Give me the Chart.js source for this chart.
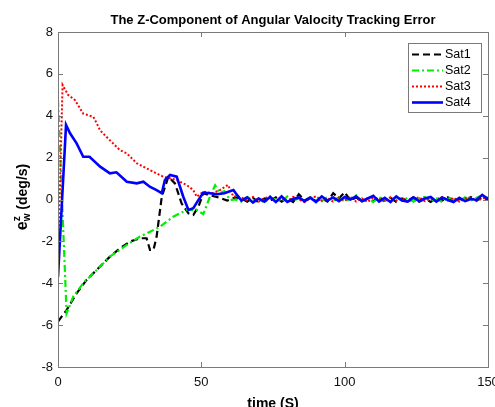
<!DOCTYPE html>
<html><head><meta charset="utf-8">
<script src="https://cdn.jsdelivr.net/npm/chart.js@4/dist/chart.umd.min.js"></script>
<style>html,body{margin:0;padding:0;background:#fff;}#wrap{position:relative;width:495px;height:407px;overflow:hidden}</style>
</head><body><div id="wrap"><canvas id="c" width="495" height="407"></canvas></div>
<script>
const chartTitle = "The Z-Component of Angular Valocity Tracking Error";
const xLabel = "time (S)";
const seriesNames = ["Sat1", "Sat2", "Sat3", "Sat4"];
const xTickValues = [0, 50, 100, 150];
const yTickValues = [-8, -6, -4, -2, 0, 2, 4, 6, 8];

// transient part of each series (time in s, error in deg/s)
const sat1T = [0, 3, 6.5, 10, 14.7, 18.1, 21.6, 25.1, 28.6, 30.9, 32.1, 33.3, 34.4, 36.2, 38.5, 40.8, 43.1, 45.5, 47.2, 49, 50.7, 53, 56, 59];
const sat1V = [-5.83, -5.28, -4.48, -3.84, -3.2, -2.73, -2.33, -2.01, -1.85, -1.85, -2.41, -2.41, -1.77, 0.13, 1.09, 0.77, -0.18, -0.66, -0.74, -0.34, 0.3, 0.2, 0.1, -0.05];
const sat2T = [0, 3, 5.3, 8.8, 13.5, 18.1, 24, 28.6, 32.1, 35.6, 40.2, 44.9, 48.4, 50.7, 53, 54.8, 56.5, 58, 60];
const sat2V = [4.75, -5.43, -4.64, -4.0, -3.37, -2.73, -2.17, -1.77, -1.54, -1.3, -0.82, -0.5, -0.5, -0.7, 0.13, 0.68, 0.3, 0.4, -0.02];
const sat3T = [0, 1.6, 3.5, 5.9, 8.8, 12.3, 13.5, 14.7, 18, 21.6, 24, 27.5, 32, 36.7, 41.4, 44.9, 47.2, 48.4, 50.7, 54, 56.5, 59.3, 61.2];
const sat3V = [-3.0, 5.47, 5.0, 4.75, 4.1, 3.95, 3.64, 3.3, 2.84, 2.36, 2.2, 1.73, 1.41, 1.09, 0.93, 0.69, 0.45, 0.13, 0.37, 0.3, 0.45, 0.7, 0.13];
const sat4T = [0, 2.8, 4.2, 6.5, 8.8, 11, 14.7, 18.1, 20.4, 24, 27.5, 29.8, 32, 34.4, 36.2, 37.3, 39.1, 41.4, 43.7, 45.5, 47.2, 49, 50.7, 53, 55.4, 58, 61.2];
const sat4V = [-3.7, 3.56, 3.16, 2.68, 2.04, 2.04, 1.57, 1.25, 1.3, 0.85, 0.77, 0.85, 0.61, 0.45, 0.3, 0.93, 1.17, 1.09, 0.13, -0.5, -0.42, -0.02, 0.33, 0.3, 0.25, 0.3, 0.45];

// steady-state part (shared time grid)
const tailT = [62,64,66,68,70,72,74,76,78,80,82,84,86,88,90,92,94,96,98,100,102,104,106,108,110,112,114,116,118,120,122,124,126,128,130,132,134,136,138,140,142,144,146,148,150];
const sat1Tail = [0.1,0.05,-0.1,0.08,-0.15,0.05,-0.05,0.1,-0.1,0.05,-0.12,0.25,-0.05,0.1,-0.08,0.05,-0.1,0.3,0.05,0.35,-0.05,0.1,-0.1,0.05,-0.08,0.12,-0.05,0.08,-0.12,0.05,-0.05,0.1,-0.1,0.05,-0.12,0.08,-0.05,0.1,-0.08,0.05,-0.1,0.12,-0.05,0.1,0.0];
const sat2Tail = [0.0,-0.1,0.12,-0.05,0.05,-0.15,0.1,0.0,-0.1,0.15,-0.05,0.05,-0.12,0.1,0.0,-0.08,0.12,-0.05,0.1,-0.1,0.05,0.2,-0.08,0.05,-0.12,0.1,0.0,-0.1,0.12,-0.05,0.08,-0.1,0.05,0.12,-0.08,0.05,-0.12,0.1,0.0,-0.08,0.1,-0.05,0.08,0.2,0.05];
const sat3Tail = [0.15,0.1,-0.05,0.12,-0.1,0.05,0.15,-0.1,0.05,-0.08,0.12,0.0,-0.12,0.08,0.15,-0.05,0.05,-0.1,0.1,-0.05,0.12,-0.1,0.05,-0.12,0.1,0.02,-0.1,0.12,-0.05,0.08,-0.12,0.05,0.1,-0.08,0.05,-0.1,0.12,-0.05,0.08,-0.1,0.05,0.1,-0.08,0.05,0.1];
const sat4Tail = [0.3,-0.05,0.1,-0.15,0.05,-0.1,0.12,-0.12,0.15,-0.12,0.02,0.1,-0.08,0.08,-0.12,0.15,-0.05,0.1,-0.08,0.12,0.0,0.15,-0.08,0.05,0.18,-0.1,0.08,-0.12,0.15,-0.05,-0.1,0.1,-0.08,0.05,0.12,-0.1,0.1,-0.02,-0.12,0.08,-0.08,0.02,-0.02,0.22,0.02];

function pts(t, v, tt, tv) {
  const out = t.map((x, i) => ({x: x, y: v[i]}));
  tt.forEach((x, i) => out.push({x: x, y: tv[i]}));
  return out;
}

const styles = [
  {color: '#000000', dash: [7, 4], width: 2.2, order: 3},
  {color: '#00ee00', dash: [7, 3, 2, 3], width: 2.2, order: 2},
  {color: '#ff0000', dash: [2, 2], width: 2, order: 1},
  {color: '#0000ff', dash: [], width: 2.6, order: 0}
];
const seriesData = [
  pts(sat1T, sat1V, tailT, sat1Tail),
  pts(sat2T, sat2V, tailT, sat2Tail),
  pts(sat3T, sat3V, tailT, sat3Tail),
  pts(sat4T, sat4V, tailT, sat4Tail)
];

const FONT = '"Liberation Sans", Arial, sans-serif';

const decor = {
  id: 'decor',
  afterDraw(chart) {
    const ctx = chart.ctx, a = chart.chartArea;
    const xs = chart.scales.x, ys = chart.scales.y;
    ctx.save();
    ctx.strokeStyle = '#7a7a7a';
    ctx.lineWidth = 1;
    ctx.setLineDash([]);
    ctx.strokeRect(Math.round(a.left) + 0.5, Math.round(a.top) + 0.5, Math.round(a.right - a.left), Math.round(a.bottom - a.top));
    ctx.beginPath();
    xTickValues.forEach(v => {
      const px = Math.round(xs.getPixelForValue(v)) + 0.5;
      ctx.moveTo(px, a.bottom); ctx.lineTo(px, a.bottom - 5);
      ctx.moveTo(px, a.top); ctx.lineTo(px, a.top + 5);
    });
    yTickValues.forEach(v => {
      const py = Math.round(ys.getPixelForValue(v)) + 0.5;
      ctx.moveTo(a.left, py); ctx.lineTo(a.left + 5, py);
      ctx.moveTo(a.right, py); ctx.lineTo(a.right - 5, py);
    });
    ctx.stroke();

    ctx.fillStyle = '#000';
    ctx.font = 'bold 13px ' + FONT;
    ctx.textAlign = 'center';
    ctx.textBaseline = 'middle';
    ctx.fillText(chartTitle, (a.left + a.right) / 2, 20);

    ctx.font = 'bold 14px ' + FONT;
    ctx.textBaseline = 'alphabetic';
    ctx.fillText(xLabel, (a.left + a.right) / 2, 408);

    ctx.save();
    ctx.translate(27, 197);
    ctx.rotate(-Math.PI / 2);
    ctx.textAlign = 'left';
    ctx.font = 'bold 16px ' + FONT;
    const eW = ctx.measureText('e').width;
    const rest = ' (deg/s)';
    ctx.font = 'bold 14px ' + FONT;
    const restW = ctx.measureText(rest).width;
    ctx.font = 'bold 10px ' + FONT;
    const supW = Math.max(ctx.measureText('z').width, ctx.measureText('w').width);
    const total = eW + supW + restW;
    let x0 = -total / 2;
    ctx.font = 'bold 16px ' + FONT;
    ctx.fillText('e', x0, 0);
    x0 += eW;
    ctx.font = 'bold 10px ' + FONT;
    ctx.fillText('z', x0, -7);
    ctx.fillText('w', x0, 3);
    x0 += supW;
    ctx.font = 'bold 14px ' + FONT;
    ctx.fillText(rest, x0, 0);
    ctx.restore();

    const lx = 408.5, ly = 43.5, lw = 73, lh = 69;
    ctx.fillStyle = '#fff';
    ctx.fillRect(lx, ly, lw, lh);
    ctx.strokeStyle = '#7a7a7a';
    ctx.lineWidth = 1;
    ctx.strokeRect(lx, ly, lw, lh);
    ctx.font = '12.5px ' + FONT;
    ctx.textAlign = 'left';
    ctx.textBaseline = 'middle';
    seriesNames.forEach((name, i) => {
      const y = 54.5 + i * 16;
      const s = styles[i];
      ctx.strokeStyle = s.color;
      ctx.lineWidth = s.width;
      ctx.setLineDash(s.dash);
      ctx.beginPath();
      ctx.moveTo(412, y); ctx.lineTo(443, y);
      ctx.stroke();
      ctx.setLineDash([]);
      ctx.fillStyle = '#000';
      ctx.fillText(name, 445, y + 0.5);
    });
    ctx.restore();
  }
};

new Chart(document.getElementById('c'), {
  type: 'line',
  data: {
    datasets: seriesNames.map((n, i) => ({
      label: n,
      data: seriesData[i],
      borderColor: styles[i].color,
      borderWidth: styles[i].width,
      borderDash: styles[i].dash,
      order: styles[i].order,
      pointRadius: 0,
      tension: 0,
      fill: false
    }))
  },
  options: {
    responsive: false,
    animation: false,
    devicePixelRatio: 1,
    layout: {padding: {top: 32, right: 7, bottom: 0, left: 0}},
    plugins: {legend: {display: false}, title: {display: false}, tooltip: {enabled: false}},
    scales: {
      x: {
        type: 'linear', min: 0, max: 150,
        afterBuildTicks(s) { s.ticks = xTickValues.map(v => ({value: v})); },
        ticks: {font: {family: FONT, size: 13}, color: '#111', padding: 8, maxRotation: 0, autoSkip: false},
        grid: {display: false, drawTicks: false}, border: {display: false},
        afterFit(s) { s.height = 40; s.paddingLeft = 0; s.paddingRight = 0; }
      },
      y: {
        type: 'linear', min: -8, max: 8,
        afterBuildTicks(s) { s.ticks = yTickValues.map(v => ({value: v})); },
        ticks: {font: {family: FONT, size: 13}, color: '#111', padding: 5, autoSkip: false},
        grid: {display: false, drawTicks: false}, border: {display: false},
        afterFit(s) { s.width = 58; s.paddingTop = 0; s.paddingBottom = 0; }
      }
    }
  },
  plugins: [decor]
});
</script></body></html>
